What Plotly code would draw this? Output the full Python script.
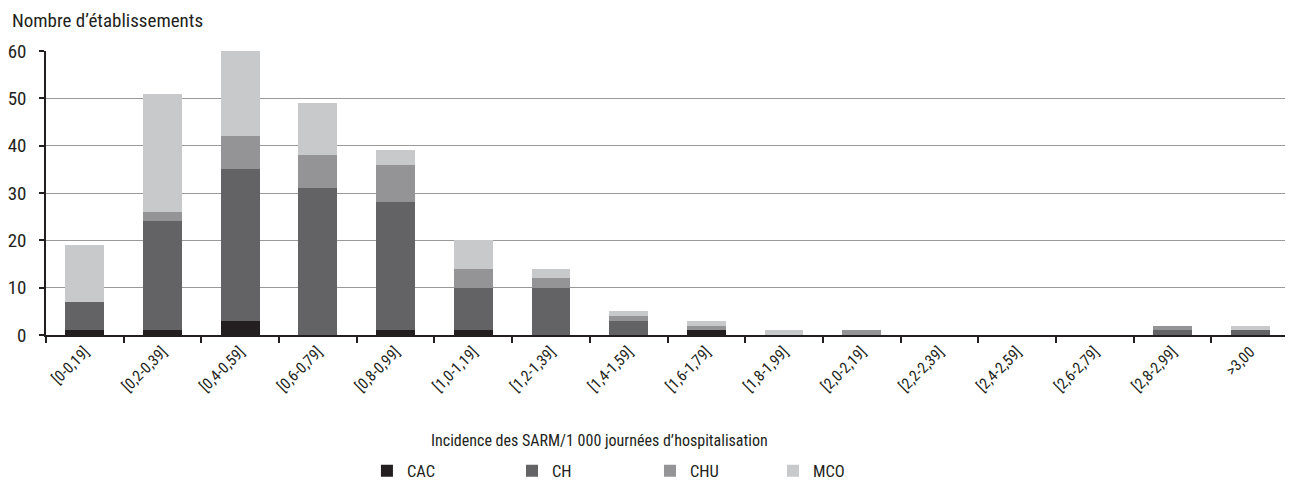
import plotly.graph_objects as go

categories = ["[0-0,19]", "[0,2-0,39]", "[0,4-0,59]", "[0,6-0,79]", "[0,8-0,99]",
              "[1,0-1,19]", "[1,2-1,39]", "[1,4-1,59]", "[1,6-1,79]", "[1,8-1,99]",
              "[2,0-2,19]", "[2,2-2,39]", "[2,4-2,59]", "[2,6-2,79]", "[2,8-2,99]", ">3,00"]
cac = [1, 1, 3, 0, 1, 1, 0, 0, 1, 0, 0, 0, 0, 0, 0, 0]
ch  = [6, 23, 32, 31, 27, 9, 10, 3, 0, 0, 0, 0, 0, 0, 1, 1]
chu = [0, 2, 7, 7, 8, 4, 2, 1, 1, 0, 1, 0, 0, 0, 1, 0]
mco = [12, 25, 18, 11, 3, 6, 2, 1, 1, 1, 0, 0, 0, 0, 0, 1]

series = [("CAC", cac, "#231f20"), ("CH", ch, "#636365"),
          ("CHU", chu, "#949497"), ("MCO", mco, "#c8c9cb")]
legend_x = [0.2582, 0.3749, 0.4859, 0.5849]

FONT = "Roboto Condensed, Liberation Sans Narrow, Arial Narrow, Roboto, Arial, sans-serif"
TXT = "#231f20"

fig = go.Figure()
legend_ids = ["legend", "legend2", "legend3", "legend4"]
for (name, vals, col), lid in zip(series, legend_ids):
    fig.add_trace(go.Bar(x=categories, y=vals, name=name, marker_color=col,
                         marker_line_width=0, legend=lid))

layout_legends = {}
for lid, lx in zip(legend_ids, legend_x):
    layout_legends[lid] = dict(orientation="h", x=lx, xanchor="left", y=-0.479,
                               yanchor="middle", font=dict(size=16.5, color=TXT),
                               bgcolor="rgba(0,0,0,0)")

fig.update_layout(
    barmode="stack", bargap=0.5,
    width=1293, height=487,
    margin=dict(l=38, r=12, t=43, b=160, autoexpand=False),
    paper_bgcolor="white", plot_bgcolor="white",
    font=dict(family=FONT, size=15, color=TXT),
    showlegend=True,
    annotations=[
        dict(text="Nombre d’établissements", xref="paper", yref="paper",
             x=-0.0290, y=1.106, xanchor="left", yanchor="middle", showarrow=False,
             font=dict(size=19)),
        dict(text="Incidence des SARM/1 000 journées d’hospitalisation", xref="paper",
             yref="paper", x=0.4449, y=-0.373, xanchor="center", yanchor="middle",
             showarrow=False, font=dict(size=16)),
    ],
    **layout_legends,
)
fig.update_xaxes(type="category", tickangle=-45, tickson="boundaries",
                 ticks="outside", ticklen=6, tickcolor=TXT, tickwidth=1.5,
                 showline=True, linecolor=TXT, linewidth=1.5, automargin=False,
                 showgrid=False, tickfont=dict(size=15.5))
fig.update_yaxes(range=[0, 60], dtick=10, ticks="outside", ticklen=5,
                 tickcolor=TXT, tickwidth=1.5, showline=True, linecolor=TXT,
                 linewidth=1.5, showgrid=True, gridcolor="#9a9a9a", gridwidth=1,
                 zeroline=False, tickfont=dict(size=19), automargin=False,
                 ticklabelstandoff=9)

fig.write_html("out.html")
